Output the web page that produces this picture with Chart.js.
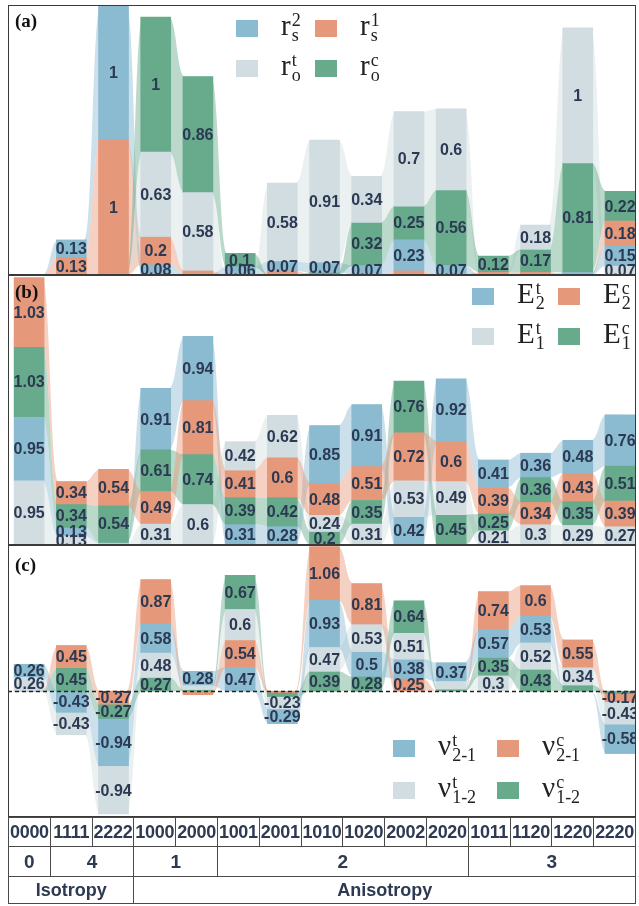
<!DOCTYPE html>
<html>
<head>
<meta charset="utf-8">
<script src="https://cdn.jsdelivr.net/npm/chart.js@4.4.1/dist/chart.umd.min.js"></script>
<style>
  body { margin: 0; background: #fff; }
  #page { position: relative; width: 639px; height: 906px; overflow: hidden; font-family: "Liberation Sans", Arial, sans-serif; }
  .panel { position: absolute; left: 8px; width: 628px; }
  .panel canvas { position: absolute; left: 0; top: 0; }
  .frame { position: absolute; left: 0; top: 0; right: 0; bottom: 0; border: 1.5px solid #3a3a3a; pointer-events: none; }
  .tag { position: absolute; left: 7px; font: bold 19px "Liberation Serif", serif; color: #111; }
  .sw { position: absolute; width: 22px; height: 17px; }
  .sym { position: absolute; font: 29px/1 "Liberation Serif", serif; color: #222; white-space: nowrap; }
  .sym .ss { display: inline-block; vertical-align: -0.36em; font-size: 18px; line-height: 15px; margin-left: 1px; }
  .sym .ss span { display: block; }
  #tbl { position: absolute; left: 8px; top: 817px; width: 628px; border-collapse: collapse; table-layout: fixed;
         color: #2d3a52; font-weight: bold; border: 1.5px solid #3a3a3a; }
  #tbl td { border: 1px solid #4a4a4a; text-align: center; padding: 0; overflow: hidden; white-space: nowrap; }
  #tbl tr.r1 td { height: 28px; font-size: 18px; letter-spacing: -0.3px; }
  #tbl tr.r2 td { height: 29px; font-size: 19px; }
  #tbl tr.r3 td { height: 26px; font-size: 18px; }
</style>
</head>
<body>
<div id="page">
  <div class="panel" id="pa" style="top:5px;height:270px"><canvas id="ca" width="628" height="270"></canvas><div class="frame"></div><div class="tag" style="top:5px">(a)</div></div>
  <div class="panel" id="pb" style="top:275px;height:270px"><canvas id="cb" width="628" height="270"></canvas><div class="frame"></div><div class="tag" style="top:6px">(b)</div></div>
  <div class="panel" id="pc" style="top:545px;height:272px"><canvas id="cc" width="628" height="272"></canvas><div class="frame"></div><div class="tag" style="top:9px">(c)</div></div>
  <table id="tbl"></table>
</div>

<script>
// categories and table labels
const codes = ['0000', '1111', '2222', '1000', '2000', '1001', '2001', '1010', '1020', '2002', '2020', '1011', '1120', '1220', '2220']
const groupLabels = ['0', '4', '1', '2', '3']
const groupSpans  = [1, 2, 2, 6, 4]
const classLabels = ['Isotropy', 'Anisotropy']
const classSpans  = [3, 12]

// (a) strength ratios
const rs2 = [0, 0.13, 1, 0.08, 0.01, 0.06, 0.07, 0.07, 0.07, 0.23, 0.07, 0, 0, 0.02, 0.15]
const rs1 = [0, 0.13, 1, 0.2, 0.02, 0, 0.03, 0, 0, 0.03, 0, 0.02, 0.02, 0, 0.18]
const rot = [0, 0, 0, 0.63, 0.58, 0, 0.58, 0.91, 0.34, 0.7, 0.6, 0, 0.18, 1, 0.07]
const roc = [0, 0, 0, 1, 0.86, 0.1, 0, 0.02, 0.32, 0.25, 0.56, 0.12, 0.17, 0.81, 0.22]

// (b) moduli
const E2t = [0.95, 0.13, 0.02, 0.91, 0.94, 0.31, 0.28, 0.85, 0.91, 0.42, 0.92, 0.41, 0.36, 0.48, 0.76]
const E2c = [1.03, 0.34, 0.54, 0.49, 0.81, 0.41, 0.6, 0.48, 0.51, 0.72, 0.6, 0.39, 0.34, 0.43, 0.39]
const E1t = [0.95, 0.13, 0.02, 0.31, 0.6, 0.42, 0.62, 0.24, 0.31, 0.53, 0.49, 0.21, 0.3, 0.29, 0.27]
const E1c = [1.03, 0.34, 0.54, 0.61, 0.74, 0.39, 0.42, 0.2, 0.35, 0.76, 0.45, 0.25, 0.36, 0.35, 0.51]

// (c) Poisson ratios
const nu21t = [0.26, -0.43, -0.94, 0.58, 0.28, 0.47, -0.29, 0.93, 0.5, 0.38, 0.37, 0.57, 0.53, 0, -0.58]
const nu21c = [0, 0.45, -0.27, 0.87, -0.07, 0.54, -0.04, 1.06, 0.81, 0.25, 0, 0.74, 0.6, 0.55, -0.17]
const nu12t = [0.26, -0.43, -0.94, 0.48, 0.08, 0.6, -0.23, 0.47, 0.53, 0.51, 0.15, 0.3, 0.52, 0.34, -0.43]
const nu12c = [0.01, 0.45, -0.27, 0.27, 0.03, 0.67, -0.08, 0.39, 0.28, 0.64, 0.04, 0.35, 0.43, 0.12, -0.05]

const BLUE = '#8bbbd1', ORANGE = '#e6987a', GRAY = '#d2dde1', GREEN = '#68ab8c'
const TXT = '#2c3953'

// stack each category smallest-first (positives up, negatives down)
function stackPositions(series) {
  return codes.map((_, i) => {
    const out = []
    let up = 0, down = 0
    series.map((s, k) => k)
      .filter(k => series[k].data[i] >= 0)
      .sort((a, b) => series[a].data[i] - series[b].data[i])
      .forEach(k => { const v = series[k].data[i]; out[k] = [up, up + v]; up += v })
    series.map((s, k) => k).reverse()
      .filter(k => series[k].data[i] < 0)
      .sort((a, b) => series[b].data[i] - series[a].data[i])
      .forEach(k => { const v = series[k].data[i]; out[k] = [down + v, down]; down += v })
    return out
  })
}

function hexA(hex, a) {
  const n = parseInt(hex.slice(1), 16)
  return `rgba(${n >> 16},${(n >> 8) & 255},${n & 255},${a})`
}

function buildPanel(canvasId, series, yMin, yMax, minLabel, zeroLine) {
  const pos = stackPositions(series)
  const halfBar = 15

  const ribbons = {
    id: 'ribbons',
    beforeDatasetsDraw(chart) {
      const { ctx, scales: { x, y } } = chart
      ctx.save()
      series.forEach((s, k) => {
        ctx.fillStyle = hexA(s.color, 0.45)
        for (let i = 0; i < codes.length - 1; i++) {
          const [lo0, hi0] = pos[i][k], [lo1, hi1] = pos[i + 1][k]
          if (hi0 === lo0 && hi1 === lo1) continue
          const xa = x.getPixelForValue(i), xb = x.getPixelForValue(i + 1)
          const x0 = xa + halfBar - 2, x1 = xb - halfBar + 2, xm = (x0 + x1) / 2
          const t0 = y.getPixelForValue(hi0), t1 = y.getPixelForValue(hi1)
          const b0 = y.getPixelForValue(lo0), b1 = y.getPixelForValue(lo1)
          ctx.beginPath()
          ctx.moveTo(xa, t0)
          ctx.lineTo(x0, t0)
          ctx.bezierCurveTo(xm, t0, xm, t1, x1, t1)
          ctx.lineTo(xb, t1)
          ctx.lineTo(xb, b1)
          ctx.lineTo(x1, b1)
          ctx.bezierCurveTo(xm, b1, xm, b0, x0, b0)
          ctx.lineTo(xa, b0)
          ctx.closePath()
          ctx.fill()
        }
      })
      ctx.restore()
    },
    afterDatasetsDraw(chart) {
      const { ctx, scales: { x, y } } = chart
      ctx.save()
      if (zeroLine) {
        const y0 = Math.round(y.getPixelForValue(0)) + 0.5
        ctx.strokeStyle = '#222'
        ctx.lineWidth = 1.3
        ctx.setLineDash([4, 3])
        ctx.beginPath()
        ctx.moveTo(chart.chartArea.left, y0)
        ctx.lineTo(chart.chartArea.right, y0)
        ctx.stroke()
        ctx.setLineDash([])
      }
      ctx.font = 'bold 16px "Liberation Sans", Arial, sans-serif'
      ctx.fillStyle = TXT
      ctx.textAlign = 'center'
      ctx.textBaseline = 'middle'
      series.forEach((s, k) => {
        s.data.forEach((v, i) => {
          if (Math.abs(v) < minLabel) return
          const [lo, hi] = pos[i][k]
          ctx.fillText(String(v), x.getPixelForValue(i), (y.getPixelForValue(lo) + y.getPixelForValue(hi)) / 2 + 1)
        })
      })
      ctx.restore()
    }
  }

  new Chart(document.getElementById(canvasId), {
    type: 'bar',
    data: {
      datasets: series.map((s, k) => ({
        label: s.name,
        data: s.data.map((v, i) => ({ x: i, y: pos[i][k] })).filter((d, i) => s.data[i] !== 0),
        backgroundColor: s.color,
        borderWidth: 0,
        borderSkipped: false,
        barThickness: 2 * halfBar,
        grouped: false
      }))
    },
    options: {
      responsive: false,
      animation: false,
      layout: { padding: 0 },
      plugins: { legend: { display: false }, tooltip: { enabled: false } },
      scales: {
        x: { type: 'linear', min: -0.5, max: 14.38, offset: false, display: false },
        y: { min: yMin, max: yMax, display: false }
      }
    },
    plugins: [ribbons]
  })
}

// legend: entries listed blue, orange, gray, green (2x2 grid)
function buildLegend(panelId, names, colX, rowY) {
  const panel = document.getElementById(panelId)
  const colors = [BLUE, ORANGE, GRAY, GREEN]
  names.forEach((n, j) => {
    const cx = colX[j % 2], ry = rowY[Math.floor(j / 2)]
    const sw = document.createElement('div')
    sw.className = 'sw'
    sw.style.left = (cx - 8) + 'px'
    sw.style.top = ry + 'px'
    sw.style.background = colors[j]
    panel.appendChild(sw)
    const t = document.createElement('div')
    t.className = 'sym'
    t.style.left = (cx - 8 + 45) + 'px'
    t.style.top = (ry - 9) + 'px'
    t.innerHTML = `${n[0]}<span class="ss"><span>${n[1]}</span><span>${n[2]}</span></span>`
    panel.appendChild(t)
  })
}

buildPanel('ca', [
  { name: 'rs1', data: rs1, color: ORANGE },
  { name: 'rs2', data: rs2, color: BLUE },
  { name: 'rot', data: rot, color: GRAY },
  { name: 'roc', data: roc, color: GREEN }
], 0, 2.0, 0.05, false)

buildPanel('cb', [
  { name: 'E1t', data: E1t, color: GRAY },
  { name: 'E1c', data: E1c, color: GREEN },
  { name: 'E2t', data: E2t, color: BLUE },
  { name: 'E2c', data: E2c, color: ORANGE }
], 0, 4.0, 0.1, false)

buildPanel('cc', [
  { name: 'nu12t', data: nu12t, color: GRAY },
  { name: 'nu12c', data: nu12c, color: GREEN },
  { name: 'nu21t', data: nu21t, color: BLUE },
  { name: 'nu21c', data: nu21c, color: ORANGE }
], -2.48, 2.88, 0.16, true)

buildLegend('pa', [['r', '2', 's'], ['r', '1', 's'], ['r', 't', 'o'], ['r', 'c', 'o']], [236, 315], [15, 55])
buildLegend('pb', [['E', 't', '2'], ['E', 'c', '2'], ['E', 't', '1'], ['E', 'c', '1']], [472, 558], [13, 53])
buildLegend('pc', [['ν', 't', '2-1'], ['ν', 'c', '2-1'], ['ν', 't', '1-2'], ['ν', 'c', '1-2']], [393, 497], [195, 237])

// table under the panels
const tbl = document.getElementById('tbl')
tbl.innerHTML =
  '<colgroup>' + codes.map(() => '<col>').join('') + '</colgroup>' +
  '<tr class="r1">' + codes.map(c => `<td>${c}</td>`).join('') + '</tr>' +
  '<tr class="r2">' + groupLabels.map((g, i) => `<td colspan="${groupSpans[i]}">${g}</td>`).join('') + '</tr>' +
  '<tr class="r3">' + classLabels.map((g, i) => `<td colspan="${classSpans[i]}">${g}</td>`).join('') + '</tr>'
</script>
</body>
</html>
